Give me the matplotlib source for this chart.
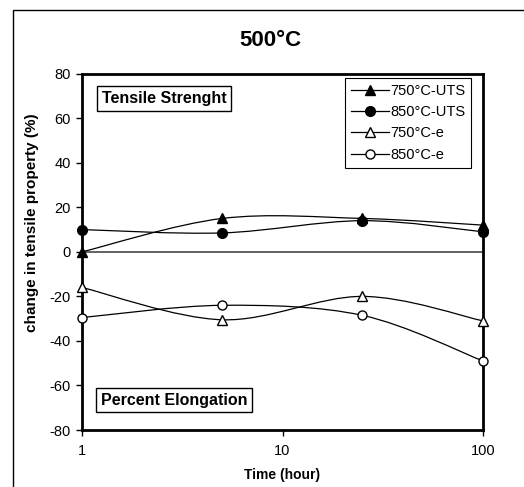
import numpy as np
import matplotlib
matplotlib.use('Agg')
import matplotlib.pyplot as plt
from matplotlib.path import Path
from matplotlib.patches import PathPatch, Rectangle
from matplotlib.lines import Line2D

plt.rcParams['font.family'] = ['Liberation Sans', 'DejaVu Sans']
plt.rcParams['axes.unicode_minus'] = False

# data
hours = [1, 5, 25, 100]
uts_750 = [0, 15, 15, 12]
uts_850 = [10, 8.5, 14, 9]
elong_750 = [-16, -30.5, -20, -31]
elong_850 = [-29.5, -24, -28.5, -49]

series = [
    ('750°C-UTS', uts_750, '^', 'black', 7),
    ('850°C-UTS', uts_850, 'o', 'black', 7),
    ('750°C-e', elong_750, '^', 'white', 6.5),
    ('850°C-e', elong_850, 'o', 'white', 6.5),
]


def smooth_path(xs, ys):
    # excel style smoothed line: bezier segments, control points from neighbours (log x space)
    lx = np.log10(xs)
    ys = np.asarray(ys, dtype=float)
    pts = np.column_stack([lx, ys])
    n = len(pts)
    verts = [pts[0]]
    codes = [Path.MOVETO]
    for i in range(n - 1):
        p_prev = pts[max(i - 1, 0)]
        p0 = pts[i]
        p1 = pts[i + 1]
        p_next = pts[min(i + 2, n - 1)]
        c1 = p0 + (p1 - p_prev) / 6.0
        c2 = p1 - (p_next - p0) / 6.0
        verts += [c1, c2, p1]
        codes += [Path.CURVE4] * 3
    verts = np.array(verts)
    verts[:, 0] = 10 ** verts[:, 0]
    return Path(verts, codes)


fig = plt.figure(figsize=(5.24, 4.87), dpi=100)
ax = fig.add_axes([0.1565, 0.117, 0.7653, 0.7317])

# outer frame of the chart area (right/bottom edges fall outside the picture)
fig.patches.append(Rectangle((12.5 / 524, -0.5), 2.0, 1.5 - 10 / 487, transform=fig.transFigure,
                             fill=False, edgecolor='black', linewidth=1.0))

ax.set_xscale('log')
ax.set_xlim(1, 100)
ax.set_ylim(-80, 80)
ax.axhline(0, color='#555555', linewidth=1.3, zorder=1)

handles = []
for label, vals, mk, face, ms in series:
    patch = PathPatch(smooth_path(hours, vals), facecolor='none', edgecolor='black',
                      linewidth=0.9, zorder=2)
    ax.add_patch(patch)
    ax.plot(hours, vals, linestyle='none', marker=mk, markersize=ms,
            markerfacecolor=face, markeredgecolor='black', markeredgewidth=1.0,
            clip_on=False, zorder=3)
    handles.append(Line2D([], [], color='black', linewidth=0.9, marker=mk, markersize=ms,
                          markerfacecolor=face, markeredgecolor='black', label=label))

leg = ax.legend(handles=handles, loc='upper right', bbox_to_anchor=(0.970, 0.988),
                bbox_transform=ax.transAxes, borderaxespad=0, fancybox=False,
                edgecolor='black', framealpha=1, fontsize=10.5, handlelength=2.6,
                handletextpad=0.1, labelspacing=0.5, borderpad=0.4)
leg.get_frame().set_linewidth(0.8)

box = dict(boxstyle='square,pad=0.3', facecolor='white', edgecolor='black', linewidth=1.0)
ax.text(0.049, 0.931, 'Tensile Strenght', transform=ax.transAxes, fontsize=11.5,
        fontweight='bold', ha='left', va='center', bbox=box, zorder=4)
ax.text(0.047, 0.084, 'Percent Elongation', transform=ax.transAxes, fontsize=11.5,
        fontweight='bold', ha='left', va='center', bbox=box, zorder=4)

ax.set_xticks([1, 10, 100])
ax.set_xticklabels(['1', '10', '100'])
ax.xaxis.set_minor_locator(matplotlib.ticker.NullLocator())
ax.set_yticks(np.arange(-80, 81, 20))
ax.tick_params(axis='both', direction='out', length=4, width=1.0, labelsize=10.5)
ax.tick_params(axis='x', pad=6)
ax.tick_params(axis='y', pad=4)
for s in ax.spines.values():
    s.set_linewidth(2.0)

ax.set_xlabel('Time (hour)', fontsize=10, fontweight='bold')
ax.xaxis.set_label_coords(0.5, -0.126)
ax.xaxis.label.set_va('center')
ax.set_ylabel('change in tensile property (%)', fontsize=11, fontweight='bold')
ax.yaxis.set_label_coords(-0.125, 0.581)
ax.yaxis.label.set_va('center')

fig.text(270 / 524, 1 - 40 / 487, '500°C', fontsize=16, fontweight='bold',
         ha='center', va='center')

fig.savefig('out.png', dpi=100)
